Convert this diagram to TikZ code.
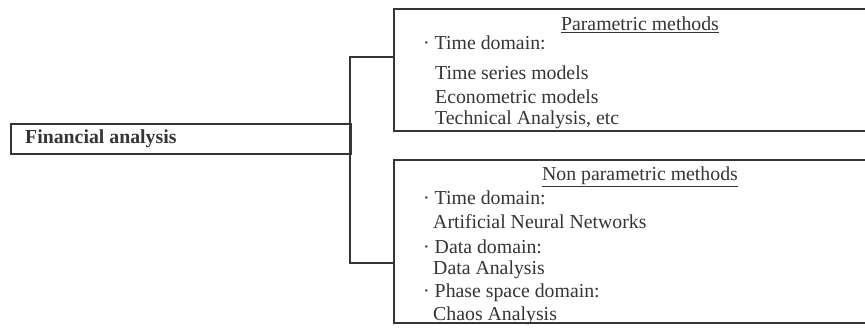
\documentclass[tikz,border=0pt]{standalone}
\usepackage{fontspec}
\setmainfont{Liberation Serif}
\usetikzlibrary{positioning}
\definecolor{ink}{HTML}{353535}

\tikzset{
  box/.style={draw=ink, line width=1.8pt, inner sep=0pt, anchor=north west},
  line/.style={anchor=west, inner sep=0pt, text=ink,
    font=\fontsize{19.8}{21}\selectfont},
  head/.style={inner sep=0pt, text=ink,
    font=\fontsize{19.8}{21}\selectfont}
}

\begin{document}
\begin{tikzpicture}[x=1pt,y=-1pt]
\clip (0,0) rectangle (865,328);
\fill[white] (0,0) rectangle (865,328);

% root
\node[box, minimum width=340pt, minimum height=30pt] (fin) at (10,123) {};
\node[line, font=\fontsize{19.8}{21}\selectfont\bfseries] (fint) at (25,139) {Financial analysis};

% the two branches, right edge runs off the page
\node[box, minimum width=494pt, minimum height=122pt] (par) at (393,8) {};
\node[box, minimum width=494pt, minimum height=163pt] (npar) at (393,159) {};

% joints
\coordinate (jt) at (350,57);
\coordinate (jb) at (350,263);
\draw[ink, line width=1.8pt] (par.west |- jt) -- (jt) -- (jb) -- (npar.west |- jb);

% parametric
\node[head] (parh) at (640,25) {\underline{Parametric methods}};
\node[line] (p1) at (423,43) {· Time domain:};
\node[line] (p2) at (435,73) {Time series models};
\node[line] (p3) at (435,97) {Econometric models};
\node[line] (p4) at (435,120) {Technical Analysis, etc};

% non parametric
\node[head] (nparh) at (640,177) {\underline{Non parametric methods}};
\node[line] (n1) at (423,198) {· Time domain:};
\node[line] (n2) at (433,222) {Artificial Neural Networks};
\node[line] (n3) at (423,247) {· Data domain:};
\node[line] (n4) at (433,270) {Data Analysis};
\node[line] (n5) at (423,293) {· Phase space domain:};
\node[line] (n6) at (433,316) {Chaos Analysis};
\end{tikzpicture}
\end{document}
